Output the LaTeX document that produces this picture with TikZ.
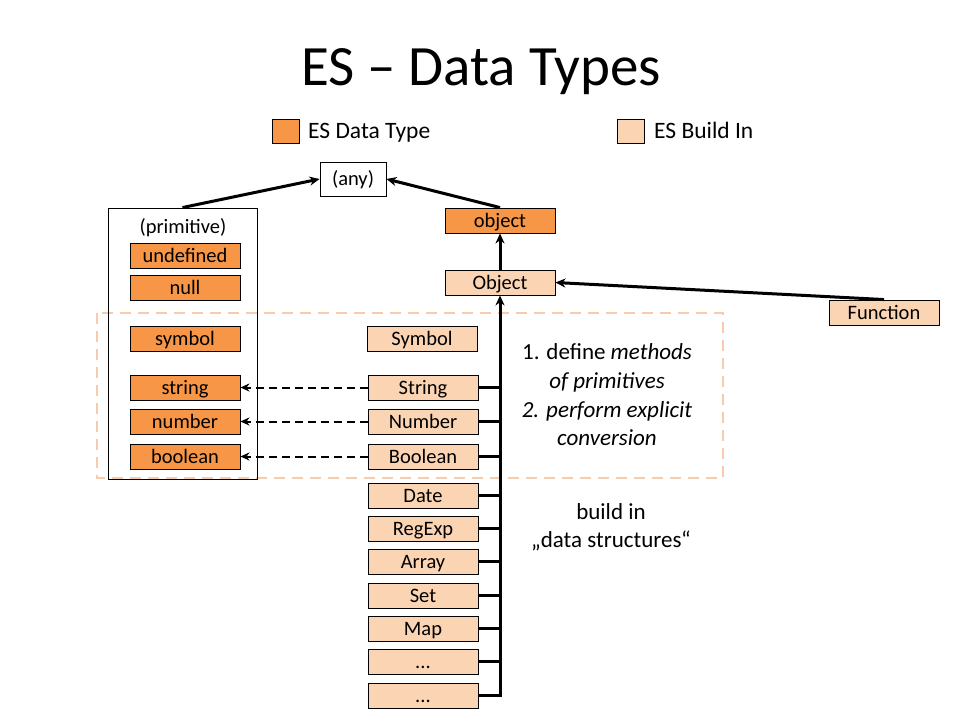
\documentclass[tikz,border=0pt]{standalone}
\usepackage{fontspec}
\setmainfont{Carlito}
\usetikzlibrary{arrows.meta}
\definecolor{esorange}{HTML}{F79646}
\definecolor{eslight}{HTML}{FBD4B4}
\definecolor{esdash}{HTML}{F8CBAD}
\begin{document}
\begin{tikzpicture}[x=1pt,y=-1pt,
  every node/.style={font=\fontsize{20.5}{24}\selectfont, inner sep=0pt},
  lbl/.style={text height=17pt, text depth=3.5pt},
  dtype/.style={lbl, draw=black, line width=0.9pt, fill=esorange, minimum width=110pt, minimum height=25pt},
  bltin/.style={lbl, draw=black, line width=0.9pt, fill=eslight, minimum width=110pt, minimum height=25pt},
  plain/.style={lbl, draw=black, line width=0.9pt, fill=white},
  legtext/.style={text height=18pt, text depth=4pt, anchor=west, font=\fontsize{23.5}{28}\selectfont},
  thick arrow/.style={line width=3pt, -{Stealth[length=10pt,width=9pt]}},
  dash arrow/.style={line width=2pt, dash pattern=on 8pt off 5pt, -{Stealth[length=9pt,width=8pt]}},
  branch/.style={line width=3pt}
]
\useasboundingbox (0,0) rectangle (960,720);

% title
\node (title) at (481,72) {\fontsize{57}{62}\selectfont ES -- Data Types};

% legend
\node[draw=black, line width=0.9pt, fill=esorange, minimum width=27pt, minimum height=24pt] (legA) at (285.5,131) {};
\node[legtext] (legAt) at (308,131) {ES Data Type};
\node[draw=black, line width=0.9pt, fill=eslight, minimum width=27pt, minimum height=24pt] (legB) at (630.5,131) {};
\node[legtext] (legBt) at (654,131) {ES Build In};

% dashed region
\draw[esdash, line width=2pt, dash pattern=on 11pt off 7pt] (97,313) rectangle (723,478);

% any
\node[plain, minimum width=66pt, minimum height=34pt] (any) at (353,179) {(any)};

% primitive container
\node[draw=black, line width=0.9pt, minimum width=149pt, minimum height=271pt] (prim) at (182.5,343.5) {};
\node[lbl] (primt) at (183,227) {(primitive)};
\node[dtype] (undef) at (185,255.5) {undefined};
\node[dtype] (null) at (185,287.5) {null};
\node[dtype] (symbol) at (185,338.5) {symbol};
\node[dtype] (string) at (185,387.5) {string};
\node[dtype] (number) at (185,421.5) {number};
\node[dtype] (boolean) at (185,456.5) {boolean};

% object side
\node[dtype] (object) at (500,220.5) {object};
\node[bltin] (Object) at (500,282.5) {Object};
\node[bltin] (Function) at (884,312.5) {Function};

\node[bltin] (Symbol) at (422,339) {Symbol};
\node[bltin] (String) at (423,387.5) {String};
\node[bltin] (Number) at (423,421.5) {Number};
\node[bltin] (Boolean) at (423,456.5) {Boolean};
\node[bltin] (Date) at (423,495.5) {Date};
\node[bltin] (RegExp) at (423,528.5) {RegExp};
\node[bltin] (Array) at (423,561.5) {Array};
\node[bltin] (Set) at (423,595.5) {Set};
\node[bltin] (Map) at (423,628.5) {Map};
\node[bltin] (dots1) at (423,661.5) {...};
\node[bltin] (dots2) at (423,695.5) {...};

% texts
\node[align=center, font=\fontsize{23}{28.7}\selectfont] (note1) at (607,395) {1. define \textit{methods}\\\textit{of primitives}\\\textit{2. perform explicit}\\\textit{conversion}};
\node[align=center, font=\fontsize{23}{28.5}\selectfont] (note2) at (611,527) {build in\\„data structures“};

% connectors to any
\draw[thick arrow] (prim.north) -- (any.west);
\draw[thick arrow] (object.north) -- (any.east);
\draw[thick arrow] (object.south |- Object.north) -- (object.south);
\draw[thick arrow] (Function.north) -- (Object.east);

% trunk
\coordinate (trunkbot) at (500,697);
\draw[thick arrow] (trunkbot) -- (Object.south);
\foreach \n in {String,Number,Boolean,Date,RegExp,Array,Set,Map,dots1,dots2}{
  \draw[branch] (\n.east) -- (\n.east -| trunkbot);
}

% dashed conversions
\draw[dash arrow] (String.west) -- (string.east);
\draw[dash arrow] (Number.west) -- (number.east);
\draw[dash arrow] (Boolean.west) -- (boolean.east);
\end{tikzpicture}
\end{document}
